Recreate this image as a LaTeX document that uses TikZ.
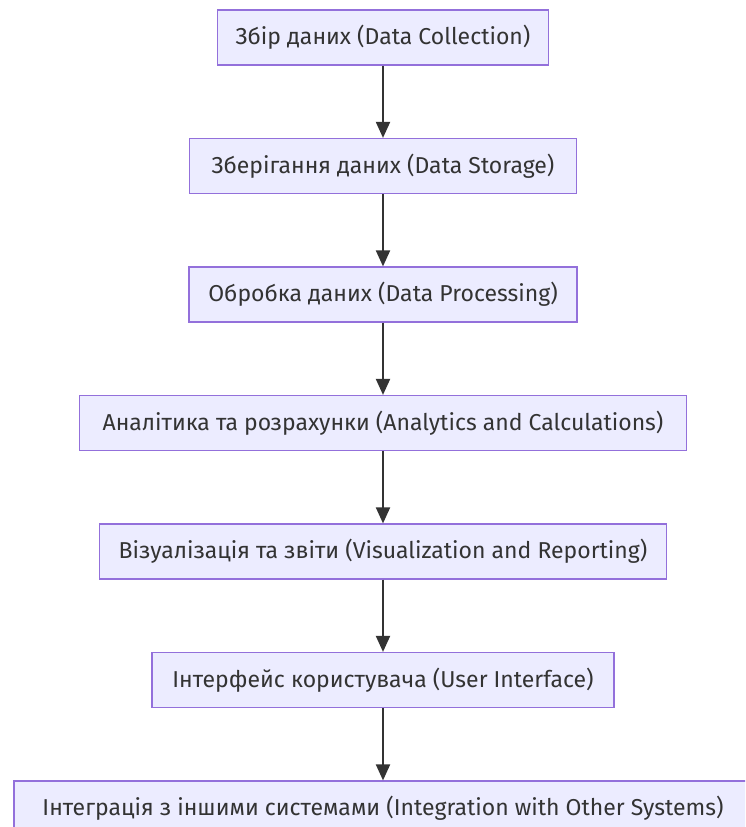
\documentclass[tikz,border=0pt]{standalone}
\usepackage{fontspec}
\setmainfont{Fira Sans}
\usetikzlibrary{positioning, arrows.meta}

\definecolor{boxfill}{HTML}{ECECFF}
\definecolor{boxline}{HTML}{9370DB}
\definecolor{flowline}{HTML}{333333}

\tikzset{
  stage/.style={draw=boxline, fill=boxfill, line width=1.2pt, rectangle,
    minimum height=55pt, minimum width=#1, text=flowline,
    font=\fontsize{23}{27}\selectfont},
  flow/.style={-{Triangle[length=16pt, width=14pt]}, line width=2pt, draw=flowline}
}

\begin{document}
\begin{tikzpicture}[x=1pt, y=1pt, node distance=72.3pt]
  \useasboundingbox (0,0) rectangle (745,-827);
  \clip (0,0) rectangle (745,-827);

  \node (db_collect) [stage=331pt] at (383,-37.5) {Збір даних (Data Collection)};
  \node (db_store) [stage=387pt, below=of db_collect] {Зберігання даних (Data Storage)};
  \node (db_process) [stage=388pt, below=of db_store] {Обробка даних (Data Processing)};
  \node (db_analytics) [stage=607pt, below=of db_process] {Аналітика та розрахунки (Analytics and Calculations)};
  \node (db_report) [stage=567pt, below=of db_analytics] {Візуалізація та звіти (Visualization and Reporting)};
  \node (db_ui) [stage=462pt, below=of db_report] {Інтерфейс користувача (User Interface)};
  \node (db_integrate) [stage=738pt, below=of db_ui] {Інтеграція з іншими системами (Integration with Other Systems)};

  \draw [flow] (db_collect) -- (db_store);
  \draw [flow] (db_store) -- (db_process);
  \draw [flow] (db_process) -- (db_analytics);
  \draw [flow] (db_analytics) -- (db_report);
  \draw [flow] (db_report) -- (db_ui);
  \draw [flow] (db_ui) -- (db_integrate);
\end{tikzpicture}
\end{document}
